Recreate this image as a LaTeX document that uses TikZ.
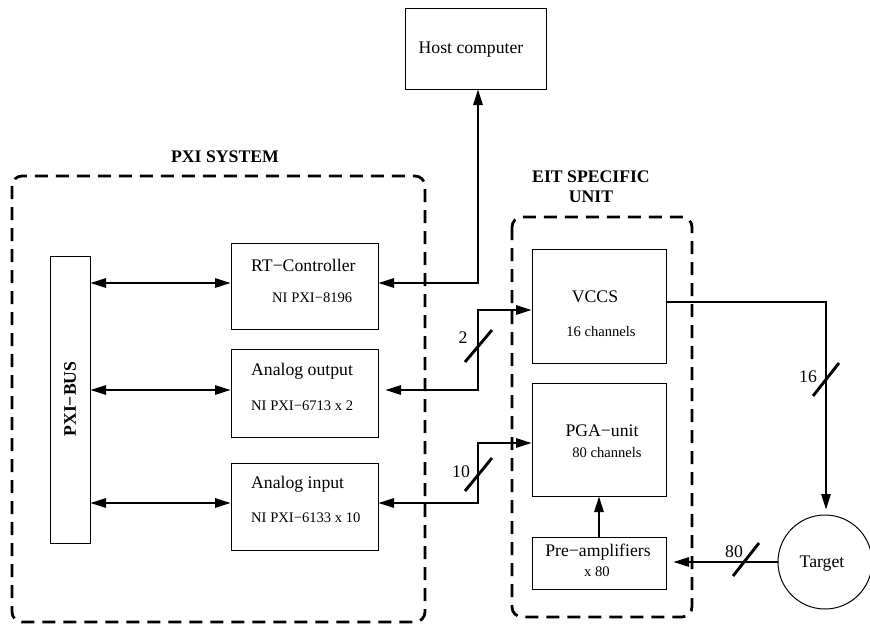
\documentclass[tikz,border=0pt]{standalone}
\usepackage{fontspec}
\setmainfont{Liberation Serif}
\usetikzlibrary{arrows.meta,calc}
\newcommand{\mainsz}{\fontsize{17.7}{20}\selectfont}
\newcommand{\smallsz}{\fontsize{14.6}{17}\selectfont}
\begin{document}
\begin{tikzpicture}[x=1pt,y=-1pt,
  box/.style={draw,line width=1pt,inner sep=0pt,outer sep=0pt,anchor=north west},
  group/.style={line width=2.8pt,dash pattern=on 13pt off 8pt,rounded corners=10pt},
  tip/.tip={Triangle[length=16pt,width=9pt]},
  both/.style={line width=2.9pt,tip-tip},
  arr/.style={line width=2.9pt,-tip},
  slash/.style={line width=2.9pt},
  lab/.style={inner sep=0pt,font=\mainsz},
  sml/.style={inner sep=0pt,font=\smallsz},
  hdr/.style={inner sep=0pt,font=\mainsz\bfseries}]
\useasboundingbox (0,0) rectangle (870,624);

% group frames
\draw[group] (12,176) rectangle (425,622);
\draw[group] (512,217) rectangle (692,617);
\node[hdr] (pxititle) at (225,157) {PXI SYSTEM};
\node[hdr] (eittitle1) at (591,177) {EIT SPECIFIC};
\node[hdr] (eittitle2) at (591,197) {UNIT};

% boxes
\node[box,minimum width=141pt,minimum height=81pt] (host) at (405,8) {};
\node[box,minimum width=40pt,minimum height=287pt] (bus) at (50,256) {};
\node[box,minimum width=147pt,minimum height=86pt] (rt) at (231,243) {};
\node[box,minimum width=147pt,minimum height=88pt] (ao) at (231,349) {};
\node[box,minimum width=147pt,minimum height=87pt] (ai) at (231,463) {};
\node[box,minimum width=134pt,minimum height=114pt] (vccs) at (532,249) {};
\node[box,minimum width=134pt,minimum height=113pt] (pga) at (532,383) {};
\node[box,minimum width=134pt,minimum height=52pt] (pre) at (532,537) {};
\node[draw,circle,line width=1pt,minimum size=94pt,inner sep=0pt,outer sep=0pt] (target) at (825,562) {};

% texts
\node[lab] (hostt) at (471,50) {Host computer};
\node[hdr,rotate=90] (bust) at (70,399) {PXI−BUS};
\node[lab,anchor=west] (rtt1) at (251,265) {RT−Controller};
\node[sml,anchor=west] (rtt2) at (272,298) {NI PXI−8196};
\node[lab,anchor=west] (aot1) at (251,371) {Analog output};
\node[sml,anchor=west] (aot2) at (251,406) {NI PXI−6713 x 2};
\node[lab,anchor=west] (ait1) at (251,484) {Analog input};
\node[sml,anchor=west] (ait2) at (251,518) {NI PXI−6133 x 10};
\node[lab] (vccst1) at (595,297) {VCCS};
\node[sml] (vccst2) at (601,332) {16 channels};
\node[lab] (pgat1) at (602,431) {PGA−unit};
\node[sml] (pgat2) at (607,452) {80 channels};
\node[lab] (pret1) at (598,552) {Pre−amplifiers};
\node[sml] (pret2) at (597,572) {x 80};
\node[lab] (targett) at (822,564) {Target};

% junction coordinates
\coordinate (hj) at (478,283);
\coordinate (aoj) at (478,390);
\coordinate (aij) at (478,503);
\coordinate (vj) at (478,310);
\coordinate (pj) at (478,443);
\coordinate (tj) at (826,302);

% connectors
\draw[both] (rt.east |- hj) -- (hj) -- (hj |- host.south);
\draw[both] (bus.east |- hj) -- (rt.west |- hj);
\draw[both] (bus.east |- aoj) -- (ao.west |- aoj);
\draw[both] (bus.east |- aij) -- (ai.west |- aij);
\draw[both,shorten <=7pt] (ao.east |- aoj) -- (aoj) -- (vj) -- (vccs.west |- vj);
\draw[both] (ai.east |- aij) -- (aij) -- (pj) -- (pga.west |- pj);
\draw[arr] (pre.north) -- (pga.south);
\draw[arr,shorten >=5pt] (vccs.east |- tj) -- (tj) -- (tj |- target.north);
\draw[arr,shorten >=7pt] (target.west) -- (pre.east |- target.west);

% bus width slashes
\draw[slash] (465,362) -- (492,330);
\node[lab] (n2) at (463,338) {2};
\draw[slash] (465,491) -- (492,458);
\node[lab] (n10) at (461,472) {10};
\draw[slash] (813,396) -- (839,363);
\node[lab] (n16) at (808,377) {16};
\draw[slash] (733,576) -- (759,543);
\node[lab] (n80) at (734,552) {80};
\end{tikzpicture}
\end{document}
